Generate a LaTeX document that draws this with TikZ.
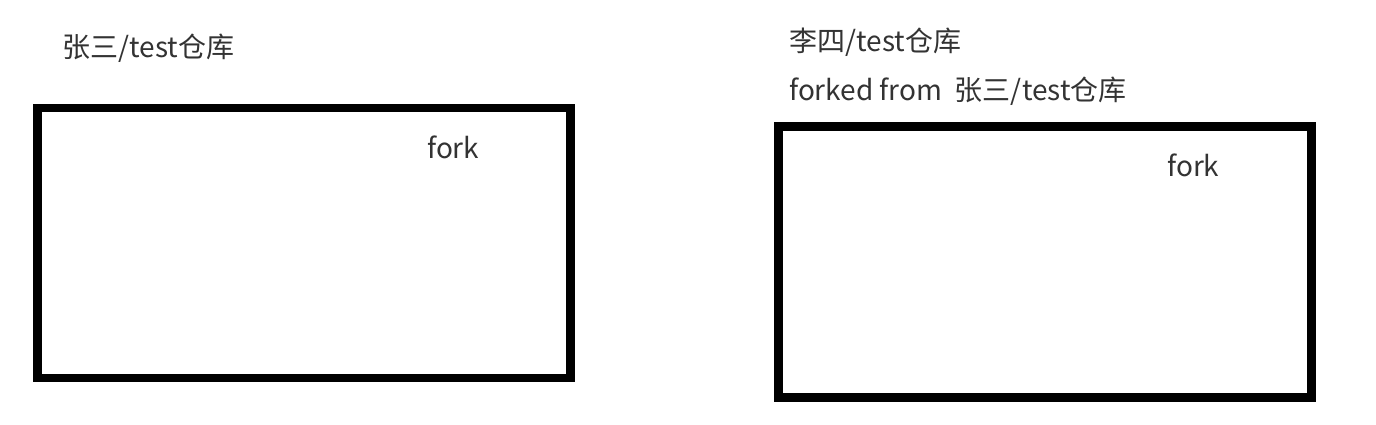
\documentclass[tikz,border=0pt]{standalone}
\usepackage{fontspec}
\setmainfont{Noto Sans CJK SC}
\begin{document}
\begin{tikzpicture}[x=1pt,y=-1pt,
  repo/.style={draw=black,line width=8.5pt},
  lbl/.style={inner sep=0pt,anchor=base west,text=black!80,font=\fontsize{28}{33}\selectfont}]
\useasboundingbox (0,0) rectangle (1376,424);
\draw[repo] (37.5,108) rectangle (570.5,378);
\draw[repo] (778.5,126.5) rectangle (1311.5,397.5);
\node[lbl] (t1) at (62,57) {张三/test仓库};
\node[lbl] (f1) at (427,158) {fork};
\node[lbl] (t2) at (789,51) {李四/test仓库};
\node[lbl] (t3) at (789,100) {forked from\ \ 张三/test仓库};
\node[lbl] (f2) at (1167,176) {fork};
\end{tikzpicture}
\end{document}
